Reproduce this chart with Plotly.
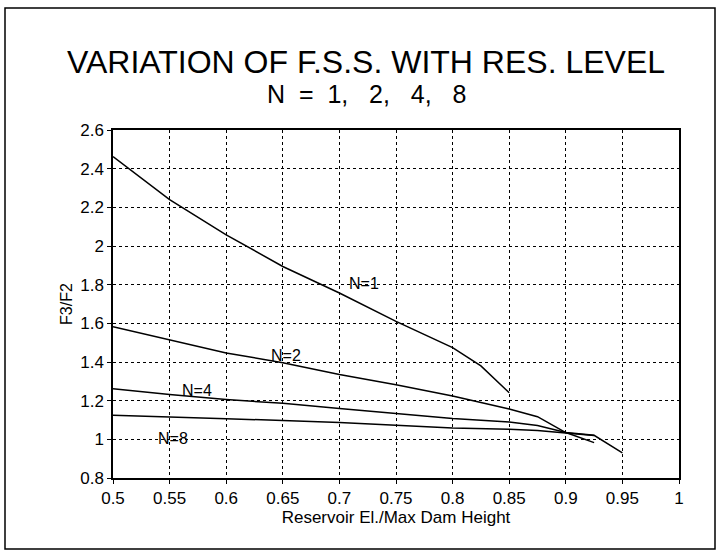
import plotly.graph_objects as go

# Reservoir elevation / max dam height
x_n1 = [0.5, 0.55, 0.6, 0.65, 0.7, 0.75, 0.8, 0.825, 0.85]
y_n1 = [2.462, 2.24, 2.058, 1.894, 1.757, 1.61, 1.474, 1.38, 1.241]

x_n2 = [0.5, 0.55, 0.6, 0.65, 0.7, 0.75, 0.8, 0.85, 0.875, 0.9, 0.925]
y_n2 = [1.582, 1.513, 1.447, 1.396, 1.335, 1.282, 1.224, 1.157, 1.117, 1.035, 0.983]

x_n4 = [0.5, 0.55, 0.6, 0.65, 0.7, 0.75, 0.8, 0.85, 0.875, 0.9, 0.925, 0.95]
y_n4 = [1.262, 1.232, 1.206, 1.186, 1.16, 1.135, 1.108, 1.09, 1.072, 1.035, 1.021, 0.93]

x_n8 = [0.5, 0.55, 0.6, 0.65, 0.7, 0.75, 0.8, 0.85, 0.875, 0.9, 0.925]
y_n8 = [1.124, 1.117, 1.107, 1.097, 1.087, 1.073, 1.059, 1.052, 1.046, 1.033, 1.02]

series = [("N=1", x_n1, y_n1), ("N=2", x_n2, y_n2), ("N=4", x_n4, y_n4), ("N=8", x_n8, y_n8)]

# curve label positions (data coords)
label_names = ["N=1", "N=2", "N=4", "N=8"]
label_x = [0.722, 0.653, 0.574, 0.553]
label_y = [1.805, 1.434, 1.253, 1.005]

x_ticks = [0.5, 0.55, 0.6, 0.65, 0.7, 0.75, 0.8, 0.85, 0.9, 0.95, 1.0]
x_ticktext = ["0.5", "0.55", "0.6", "0.65", "0.7", "0.75", "0.8", "0.85", "0.9", "0.95", "1"]
y_ticks = [0.8, 1.0, 1.2, 1.4, 1.6, 1.8, 2.0, 2.2, 2.4, 2.6]
y_ticktext = ["0.8", "1", "1.2", "1.4", "1.6", "1.8", "2", "2.2", "2.4", "2.6"]

FONT = "Liberation Sans, Arial, sans-serif"

fig = go.Figure()
for name, xs, ys in series:
    fig.add_trace(go.Scatter(x=xs, y=ys, mode="lines", name=name,
                             line=dict(color="black", width=1.5), showlegend=False))

for name, lx, ly in zip(label_names, label_x, label_y):
    fig.add_annotation(x=lx, y=ly, text=name, showarrow=False,
                       font=dict(family=FONT, size=16, color="black"))

# title block
fig.add_annotation(xref="paper", yref="paper", x=(366 - 113) / 566, y=(478 - 62) / 348,
                   text="VARIATION OF F.S.S. WITH RES. LEVEL", showarrow=False,
                   font=dict(family=FONT, size=32, color="black"), yanchor="middle")
fig.add_annotation(xref="paper", yref="paper", x=(366 - 113) / 566, y=(478 - 94) / 348,
                   text="N  =  1,   2,   4,   8", showarrow=False,
                   font=dict(family=FONT, size=25, color="black"), yanchor="middle")

# outer border
fig.add_shape(type="rect", xref="paper", yref="paper",
              x0=(5 - 113) / 566, x1=(715 - 113) / 566,
              y0=(478 - 549) / 348, y1=(478 - 8) / 348,
              line=dict(color="black", width=1.5))

axis_common = dict(showline=True, linecolor="black", linewidth=1.5, mirror=True,
                   showgrid=True, gridcolor="black", griddash="dot", gridwidth=1,
                   ticks="outside", ticklen=4, tickcolor="black", zeroline=False,
                   tickfont=dict(family=FONT, size=17, color="black"))

fig.update_xaxes(range=[0.5, 1.0], tickvals=x_ticks, ticktext=x_ticktext,
                 title=dict(text="Reservoir El./Max Dam Height", standoff=3,
                            font=dict(family=FONT, size=17, color="black")),
                 **axis_common)
fig.update_yaxes(range=[0.8, 2.6], tickvals=y_ticks, ticktext=y_ticktext,
                 title=dict(text="F3/F2", standoff=4,
                            font=dict(family=FONT, size=16, color="black")),
                 **axis_common)

fig.update_layout(width=728, height=554, margin=dict(l=113, r=49, t=130, b=76),
                  plot_bgcolor="white", paper_bgcolor="white")

fig.write_html("out.html")
